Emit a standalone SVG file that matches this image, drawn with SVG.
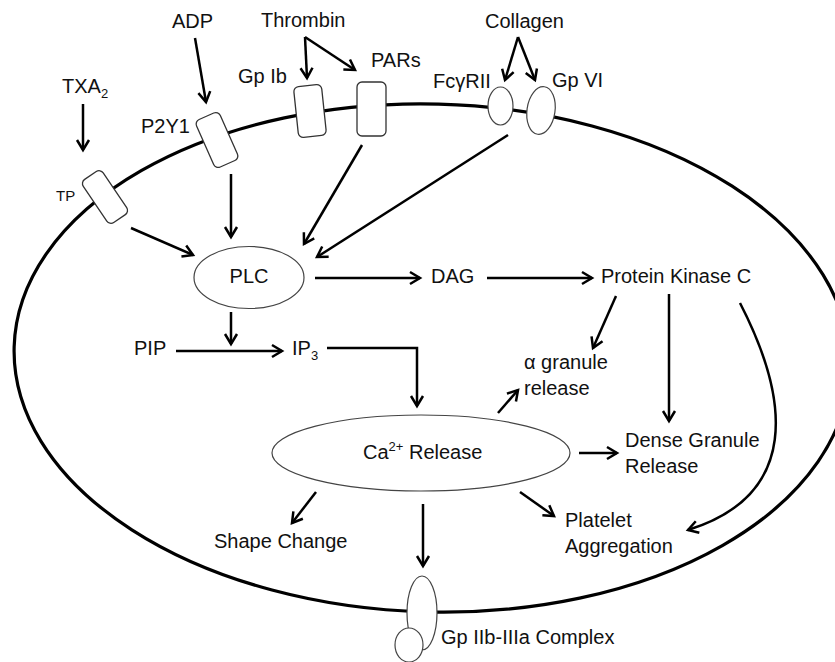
<svg xmlns="http://www.w3.org/2000/svg" width="835" height="662" viewBox="0 0 835 662">
<style>
text{font-family:"Liberation Sans",Arial,sans-serif;font-size:20px;fill:#111}
.sm{font-size:15px}
.sub{font-size:13px}
.rc{fill:#fff;stroke:#333;stroke-width:1.3}
.el{fill:#fff;stroke:#444;stroke-width:1.2}
.ar{fill:none;stroke:#000;stroke-width:2.5;marker-end:url(#ah)}
</style>
<defs>
<marker id="ah" markerUnits="userSpaceOnUse" markerWidth="16" markerHeight="16" viewBox="0 0 16 16" refX="13" refY="8" orient="auto">
<path d="M3,2 L13,8 L3,14" fill="none" stroke="#000" stroke-width="2.5"/>
</marker>
</defs>
<rect width="835" height="662" fill="#fff"/>
<g id="cell">
<ellipse cx="432" cy="358" rx="418" ry="254" transform="rotate(1.5 432 358)" fill="none" stroke="#000" stroke-width="3.2"/>
</g>
<g id="connectors">
<path class="ar" d="M83,104 L83,150"/>
<path class="ar" d="M195,38 L206,102"/>
<path class="ar" d="M305,37 L307,78"/>
<path class="ar" d="M305,37 L355,70"/>
<path class="ar" d="M518,37 L505,80"/>
<path class="ar" d="M518,37 L535,80"/>
<path class="ar" d="M131,228 L193,255"/>
<path class="ar" d="M231,174 L231,237"/>
<path class="ar" d="M362,145 L304,244"/>
<path class="ar" d="M508,135 L317,257"/>
<path class="ar" d="M315,278 L420,278"/>
<path class="ar" d="M487,278 L592,278"/>
<path class="ar" d="M231,312 L231,344"/>
<path class="ar" d="M176,351 L282,351"/>
<path class="ar" d="M327,348 L417,348 L417,406"/>
<path class="ar" d="M616,296 L593,348"/>
<path class="ar" d="M669,294 L669,421"/>
<path class="ar" d="M740,303 C790,400 800,495 688,530"/>
<path class="ar" d="M498,413 L518,390"/>
<path class="ar" d="M579,453 L617,453"/>
<path class="ar" d="M520,492 L554,516"/>
<path class="ar" d="M316,492 L292,523"/>
<path class="ar" d="M423,504 L423,566"/>
</g>
<g id="TP"><rect class="rc" x="93" y="171" width="24" height="52" rx="5" transform="rotate(-34 105 197)"/><text class="sm" x="56" y="201">TP</text></g>
<g id="P2Y1"><rect class="rc" x="204" y="114" width="26" height="52" rx="5" transform="rotate(-24 217 140)"/><text x="141" y="133">P2Y1</text></g>
<g id="GpIb"><rect class="rc" x="296" y="85.5" width="28" height="51" rx="5" transform="rotate(-6 310 111)"/><text x="238" y="83">Gp Ib</text></g>
<g id="PARs"><rect class="rc" x="357" y="82" width="29" height="54" rx="5"/><text x="371" y="67">PARs</text></g>
<g id="FcgRII"><ellipse class="el" cx="500.5" cy="106" rx="12.5" ry="19"/><text x="433" y="88">FcγRII</text></g>
<g id="GpVI"><ellipse class="el" cx="541" cy="110.5" rx="14" ry="24" transform="rotate(8 541 110.5)"/><text x="552" y="87">Gp VI</text></g>
<g id="TXA2"><text x="62" y="93">TXA<tspan class="sub" dy="5">2</tspan></text></g>
<g id="ADP"><text x="172" y="28">ADP</text></g>
<g id="Thrombin"><text x="261" y="27">Thrombin</text></g>
<g id="Collagen"><text x="485" y="28">Collagen</text></g>
<g id="PLC"><ellipse class="el" cx="249" cy="277.5" rx="55" ry="31"/><text x="249" y="283" text-anchor="middle">PLC</text></g>
<g id="DAG"><text x="431" y="283">DAG</text></g>
<g id="PKC"><text x="601" y="283">Protein Kinase C</text></g>
<g id="PIP"><text x="134" y="355">PIP</text></g>
<g id="IP3"><text x="292" y="355">IP<tspan class="sub" dy="5">3</tspan></text></g>
<g id="alpha"><text x="524" y="369">α granule</text><text x="524" y="395">release</text></g>
<g id="Ca"><ellipse class="el" cx="421" cy="453" rx="149" ry="38"/><text x="363" y="459">Ca<tspan class="sub" dy="-8">2+</tspan><tspan dy="8"> Release</tspan></text></g>
<g id="Dense"><text x="625" y="447">Dense Granule</text><text x="625" y="473">Release</text></g>
<g id="Platelet"><text x="565" y="527">Platelet</text><text x="565" y="553">Aggregation</text></g>
<g id="Shape"><text x="214" y="548">Shape Change</text></g>
<g id="GpIIb"><ellipse class="el" cx="422" cy="613" rx="15" ry="37"/><ellipse class="el" cx="409" cy="645" rx="14" ry="17"/><text x="441" y="644">Gp IIb-IIIa Complex</text></g>
</svg>
